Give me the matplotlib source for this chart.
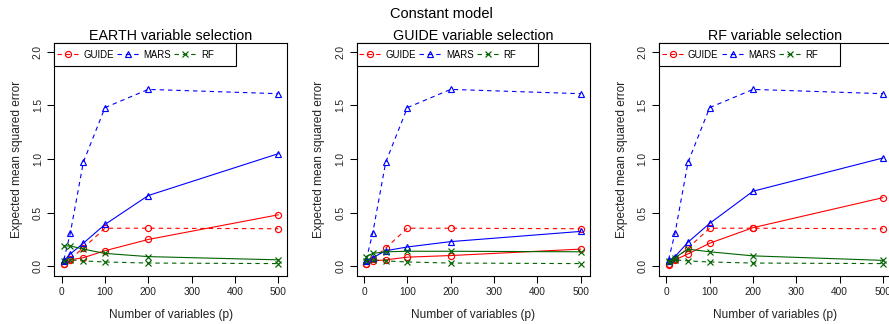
import matplotlib
matplotlib.use("Agg")
import matplotlib.pyplot as plt
from matplotlib.patches import Rectangle

plt.rcParams['font.family'] = ['Liberation Sans', 'DejaVu Sans']

p = [5, 20, 50, 100, 200, 500]

# dashed lines (same in every panel)
guide_full = [0.02, 0.07, 0.17, 0.355, 0.355, 0.35]
mars_full = [0.06, 0.31, 0.97, 1.48, 1.65, 1.61]
rf_full = [0.05, 0.06, 0.05, 0.04, 0.03, 0.025]

panel_titles = ["EARTH variable selection", "GUIDE variable selection", "RF variable selection"]

# solid lines, one list per panel
guide_sel = [
    [0.02, 0.06, 0.08, 0.145, 0.25, 0.48],
    [0.02, 0.05, 0.06, 0.085, 0.10, 0.16],
    [0.015, 0.06, 0.115, 0.215, 0.36, 0.64],
]
mars_sel = [
    [0.05, 0.115, 0.215, 0.39, 0.66, 1.05],
    [0.05, 0.08, 0.145, 0.18, 0.23, 0.325],
    [0.05, 0.09, 0.225, 0.40, 0.70, 1.01],
]
rf_sel = [
    [0.19, 0.19, 0.16, 0.12, 0.09, 0.06],
    [0.09, 0.12, 0.135, 0.14, 0.14, 0.135],
    [0.04, 0.08, 0.16, 0.135, 0.097, 0.055],
]

methods = ["GUIDE", "MARS", "RF"]
colors = {"GUIDE": "#FF0000", "MARS": "#0000FF", "RF": "#006400"}
markers = {"GUIDE": "o", "MARS": "^", "RF": "x"}
msizes = {"GUIDE": 4.4, "MARS": 4.6, "RF": 4.4}
dash = (0, (4, 3.5))

W, H = 889, 324
fig = plt.figure(figsize=(W / 100, H / 100), dpi=100)
fig.text(441.5 / W, 1 - 13.5 / H, "Constant model", ha="center", va="center", fontsize=10.5)

lefts = [54.3, 356.7, 659.0]
ax_w = 233.0
ax_top, ax_bot = 43.3, 275.7
ax_h = ax_bot - ax_top

for i, left in enumerate(lefts):
    ax = fig.add_axes([left / W, 1 - ax_bot / H, ax_w / W, ax_h / H])
    full = {"GUIDE": guide_full, "MARS": mars_full, "RF": rf_full}
    sel = {"GUIDE": guide_sel[i], "MARS": mars_sel[i], "RF": rf_sel[i]}
    handles = []
    for m in methods:
        h, = ax.plot(p, full[m], linestyle=dash, color=colors[m], lw=0.8,
                     marker=markers[m], ms=msizes[m], mfc="none", mec=colors[m], mew=0.85,
                     label=m)
        handles.append(h)
        ax.plot(p, sel[m], linestyle="-", color=colors[m], lw=0.8,
                marker=markers[m], ms=msizes[m], mfc="none", mec=colors[m], mew=0.85)
    ax.set_xlim(-17, 521)
    ax.set_ylim(-0.088, 2.08)
    ax.set_xticks([0, 100, 200, 300, 400, 500])
    ax.set_yticks([0.0, 0.5, 1.0, 1.5, 2.0])
    ax.set_yticklabels(["0.0", "0.5", "1.0", "1.5", "2.0"], rotation=90, va="center")
    ax.tick_params(axis="both", direction="out", length=4.8, width=0.75, labelsize=7.3,
                   colors="black", labelcolor="#222222")
    ax.tick_params(axis="x", pad=3.0)
    ax.tick_params(axis="y", pad=3.5)
    for s in ax.spines.values():
        s.set_linewidth(0.8)
    ax.set_xlabel("Number of variables (p)", fontsize=8.6, va="center", color="#222222")
    ax.set_ylabel("Expected mean squared error", fontsize=8.6, va="center", color="#222222")
    ax.xaxis.set_label_coords(0.5, (ax_bot - 315.0) / ax_h)
    ax.yaxis.set_label_coords((17.0 - 54.3) / ax_w, 0.5)
    ax.text(0.5, 1 + (ax_top - 35.5) / ax_h, panel_titles[i], transform=ax.transAxes,
            ha="center", va="center", fontsize=10.3)
    # legend frame
    frame_w = 181.4 / ax_w
    frame_h = 22.4 / ax_h
    ax.add_patch(Rectangle((0, 1 - frame_h), frame_w, frame_h, transform=ax.transAxes,
                           facecolor="white", edgecolor="black", lw=0.8, zorder=5,
                           clip_on=False))
    leg = ax.legend(handles=handles, loc="center left",
                    bbox_to_anchor=(2.5 / ax_w, 1 - frame_h / 2), ncol=3,
                    frameon=False, fontsize=6.9, handlelength=2.3, handletextpad=0.45,
                    columnspacing=0.35, borderpad=0, borderaxespad=0, numpoints=1)
    leg.set_zorder(6)

fig.savefig("out.png", dpi=100)
